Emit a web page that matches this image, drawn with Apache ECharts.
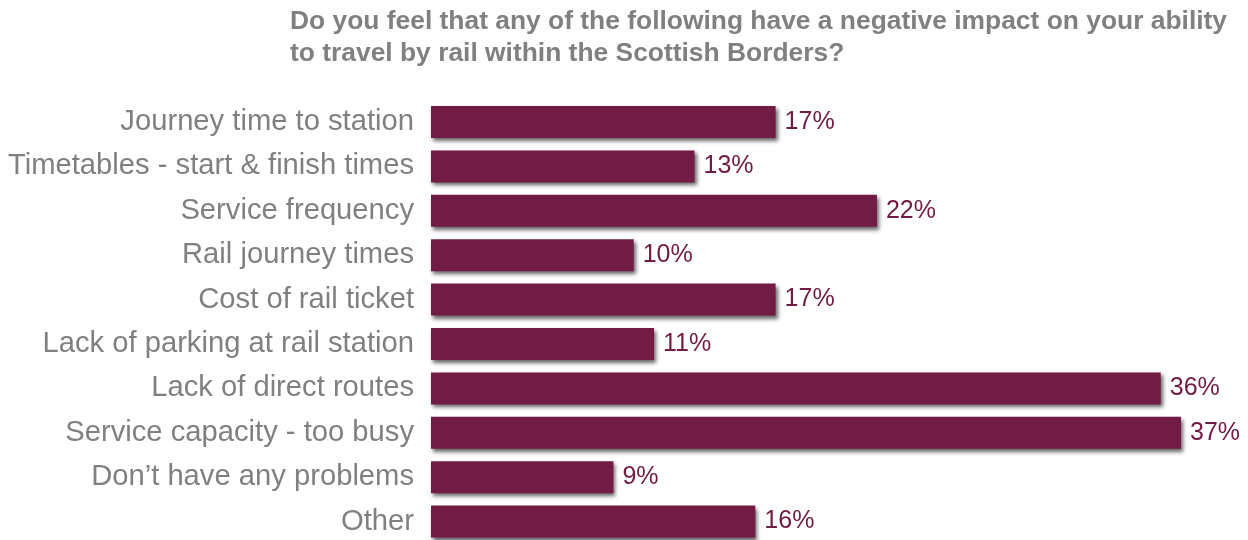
<!DOCTYPE html>
<html><head><meta charset="utf-8">
<script src="https://cdn.jsdelivr.net/npm/echarts@6/dist/echarts.min.js"></script>
<style>html,body{margin:0;padding:0;background:#fff;overflow:hidden}#c{width:1248px;height:560px}</style>
</head><body><div id="c"></div>
<script>
const categories = ["Journey time to station","Timetables - start & finish times","Service frequency","Rail journey times","Cost of rail ticket","Lack of parking at rail station","Lack of direct routes","Service capacity - too busy","Don\u2019t have any problems","Other"];
const values = [17,13,22,10,17,11,36,37,9,16];
const titleText = "Do you feel that any of the following have a negative impact on your ability\nto travel by rail within the Scottish Borders?";

const chart = echarts.init(document.getElementById('c'));
chart.setOption({
  animation:false,
  title:{text:titleText,left:290,top:6,padding:0,textStyle:{fontFamily:"Liberation Sans",fontWeight:"bold",fontSize:26.4,color:"#808080",lineHeight:32}},
  grid:{left:431,width:750,top:99.8,height:444},
  xAxis:{type:'value',min:0,max:37,show:false},
  yAxis:{type:'category',data:categories,inverse:true,
    axisLine:{show:false},axisTick:{show:false},splitLine:{show:false},
    axisLabel:{margin:17,fontFamily:"Liberation Sans",fontSize:29.2,color:"#808080"}},
  series:[{type:'bar',data:values,barWidth:32,
    itemStyle:{color:'#711b45',shadowColor:'rgba(0,0,0,0.6)',shadowBlur:4,shadowOffsetX:2,shadowOffsetY:3},
    label:{show:true,position:'right',distance:9,formatter:'{c}%',fontFamily:"Liberation Sans",fontSize:25,color:'#711b45'}}]
});
</script></body></html>
